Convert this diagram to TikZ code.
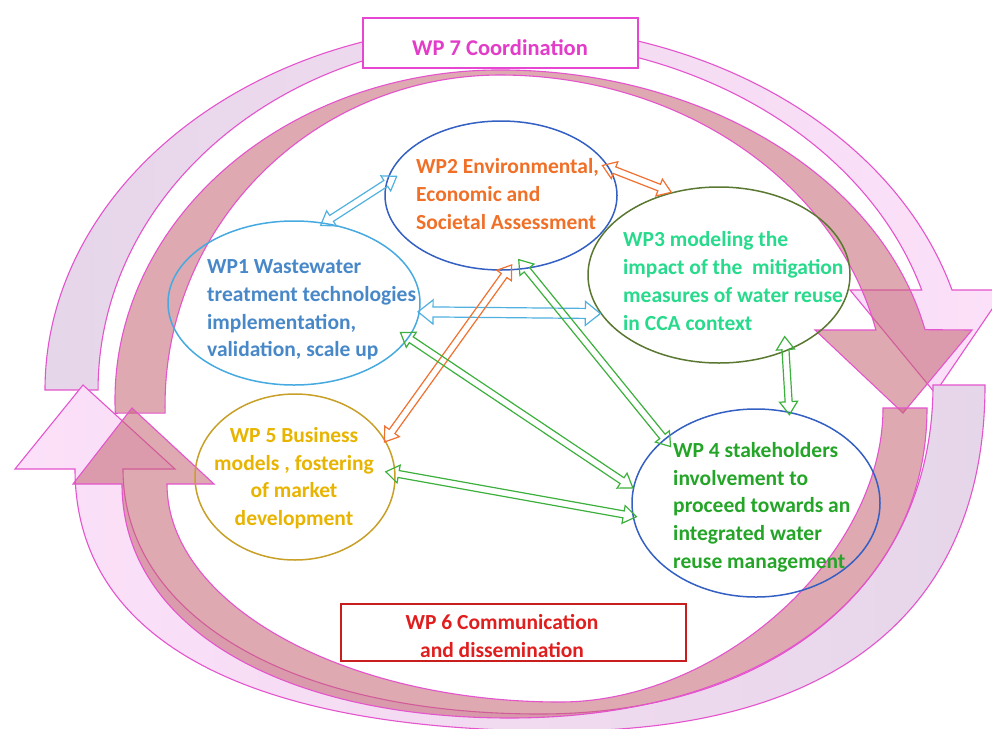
\documentclass[tikz,border=0pt]{standalone}
\usepackage{fontspec}
\setmainfont{Carlito}
\usetikzlibrary{calc,shapes.geometric}
\definecolor{bandedge}{RGB}{228,84,205}
\definecolor{darkfill}{RGB}{195,100,112}
\definecolor{lavfill}{RGB}{230,214,233}
\definecolor{pinkfill}{RGB}{252,224,249}
\definecolor{magtxt}{RGB}{226,60,200}
\definecolor{magbox}{RGB}{230,70,210}
\definecolor{wptwo}{RGB}{240,112,40}
\definecolor{blueell}{RGB}{52,96,196}
\definecolor{wponetxt}{RGB}{72,136,200}
\definecolor{wponeell}{RGB}{70,170,225}
\definecolor{wpthreetxt}{RGB}{40,218,140}
\definecolor{oliveell}{RGB}{90,120,50}
\definecolor{wpfourtxt}{RGB}{36,165,40}
\definecolor{wpfivetxt}{RGB}{232,180,0}
\definecolor{wpfiveell}{RGB}{200,160,40}
\definecolor{redtxt}{RGB}{224,30,30}
\definecolor{redbox}{RGB}{200,30,30}
\definecolor{arrblue}{RGB}{80,176,224}
\definecolor{arrorange}{RGB}{240,112,48}
\definecolor{arrgreen}{RGB}{60,176,60}
\newcommand\wpfont{\fontsize{21.5}{27.7}\selectfont\bfseries}
% #1 style, #2 from, #3 to, #4 extension at from, #5 extension at to,
% #6 head length, #7 head half width, #8 shaft half width
\newcommand\blockarrow[8]{%
  \coordinate (ba-s) at ($(#2)!-#4!(#3)$);
  \coordinate (ba-e) at ($(#3)!-#5!(#2)$);
  \coordinate (ba-a) at ($(ba-s)!#6!(ba-e)$);
  \coordinate (ba-b) at ($(ba-e)!#6!(ba-s)$);
  \draw[#1] (ba-s) -- ($(ba-a)!#7!90:(ba-e)$) -- ($(ba-a)!#8!90:(ba-e)$)
    -- ($(ba-b)!#8!-90:(ba-s)$) -- ($(ba-b)!#7!-90:(ba-s)$) -- (ba-e)
    -- ($(ba-b)!#7!90:(ba-s)$) -- ($(ba-b)!#8!90:(ba-s)$)
    -- ($(ba-a)!#8!-90:(ba-e)$) -- ($(ba-a)!#7!-90:(ba-e)$) -- cycle;}
\tikzset{
  band/.style={draw=bandedge, line width=1.1pt},
  darkband/.style={band, fill=darkfill, fill opacity=0.55},
  ellbox/.style={ellipse, draw, line width=1.5pt, inner sep=0pt},
  txt/.style={inner sep=0pt, font=\wpfont, align=left, anchor=west},
  conn/.style={line width=1.2pt, line join=miter},
}
\begin{document}
\begin{tikzpicture}[x=1pt,y=-1pt]
\useasboundingbox (0,0) rectangle (992,728);
\fill[white] (0,0) rectangle (992,728);

% light outer ring, upper half
\path[band, left color=lavfill, right color=pinkfill]
 (45,390) arc[start angle=180, end angle=270, x radius=455, y radius=365]
 arc[start angle=270, end angle=344.1, x radius=470, y radius=365]
 -- (1005,290) -- (935,393) -- (850,290) -- (921.7,290)
 arc[start angle=343.4, end angle=270, x radius=440, y radius=350]
 arc[start angle=270, end angle=180, x radius=402, y radius=350] -- cycle;
% light outer ring, lower half
\path[band, left color=pinkfill, right color=lavfill]
 (985,385) .. controls (985,610) and (836,731) .. (560,731)
 .. controls (245,731) and (75,639) .. (75,469)
 -- (15,469) -- (83,385) -- (175,469) -- (123,469)
 .. controls (123,616) and (290,714) .. (540,714)
 .. controls (776,714) and (933,582) .. (933,385) -- cycle;
% dark inner ring, upper half
\path[darkband]
 (115.3,413.2) arc[start angle=177.7, end angle=270, x radius=385, y radius=330]
 arc[start angle=270, end angle=347.7, x radius=435, y radius=330]
 -- (972,330) -- (903,413) -- (815,330) -- (875.9,330)
 arc[start angle=346.86, end angle=270, x radius=386, y radius=330]
 arc[start angle=270, end angle=178.6, x radius=335, y radius=330] -- cycle;
% dark inner ring, lower half
\path[darkband]
 (927,408) .. controls (927,594) and (760,718) .. (510,718)
 .. controls (277,718) and (122,624) .. (122,484)
 -- (73,484) -- (132,408) -- (214,484) -- (167,484)
 .. controls (167,604) and (344,702) .. (560,702)
 .. controls (721.5,702) and (883,555) .. (883,408) -- cycle;

% boxes
\node[draw=magbox, line width=1.5pt, fill=white, minimum width=275, minimum height=50] (wp7) at (500.5,43) {};
\node[font=\fontsize{22.5}{27}\selectfont\bfseries, text=magtxt, inner sep=0pt] (t7) at (500,48) {WP 7 Coordination};
\node[draw=redbox, line width=1.5pt, fill=white, minimum width=345, minimum height=57] (wp6) at (513.5,632.5) {};
\node[font=\wpfont, text=redtxt, align=center, inner sep=0pt] (t6) at (502,636) {WP 6 Communication\\and dissemination};

% ellipses
\node[ellbox, draw=wponeell, minimum width=252, minimum height=164] (wp1) at (294,303) {};
\node[ellbox, draw=blueell, minimum width=232, minimum height=149] (wp2) at (501,195.5) {};
\node[ellbox, draw=oliveell, minimum width=262, minimum height=176] (wp3) at (719,275) {};
\node[ellbox, draw=blueell, minimum width=248, minimum height=188] (wp4) at (756,503) {};
\node[ellbox, draw=wpfiveell, minimum width=200, minimum height=166] (wp5) at (295,477) {};

% texts
\node[txt, text=wponetxt] (t1) at (207,310) {WP1 Wastewater\\treatment technologies\\implementation,\\validation, scale up};
\node[txt, text=wptwo] (t2) at (416,194) {WP2 Environmental,\\Economic and\\Societal Assessment};
\node[txt, text=wpthreetxt] (t3) at (623,281) {WP3 modeling the\\impact of the\ \ mitigation\\measures of water reuse\\in CCA context};
\node[txt, text=wpfourtxt] (t4) at (673,507) {WP 4 stakeholders\\involvement to\\proceed towards an\\integrated water\\reuse management};
\node[txt, align=center, anchor=center, text=wpfivetxt] (t5) at (294,478) {WP 5 Business\\models , fostering\\of market\\development};

% connectors
\blockarrow{conn, draw=arrblue}{wp1.69}{wp2.174}{5pt}{13pt}{13pt}{9pt}{3.5pt}
\blockarrow{conn, draw=arrorange}{wp2.14}{wp3.120}{8pt}{0pt}{13pt}{9pt}{3.5pt}
\blockarrow{conn, draw=arrblue}{wp1.356}{wp3.198}{2pt}{0pt}{15pt}{12pt}{5pt}
\blockarrow{conn, draw=arrorange}{wp2.275}{wp5.22}{7pt}{2pt}{13pt}{9pt}{3.5pt}
\blockarrow{conn, draw=arrgreen}{wp2.289}{wp4.145}{12pt}{10pt}{13pt}{9pt}{3.5pt}
\blockarrow{conn, draw=arrgreen}{wp1.343}{wp4.173}{10pt}{0pt}{13pt}{9pt}{3.5pt}
\blockarrow{conn, draw=arrgreen}{wp5.2}{wp4.186}{10pt}{4pt}{13pt}{9pt}{3.5pt}
\blockarrow{conn, draw=arrgreen}{wp3.311}{wp4.70}{15pt}{3pt}{13pt}{9pt}{3.5pt}
\end{tikzpicture}
\end{document}
